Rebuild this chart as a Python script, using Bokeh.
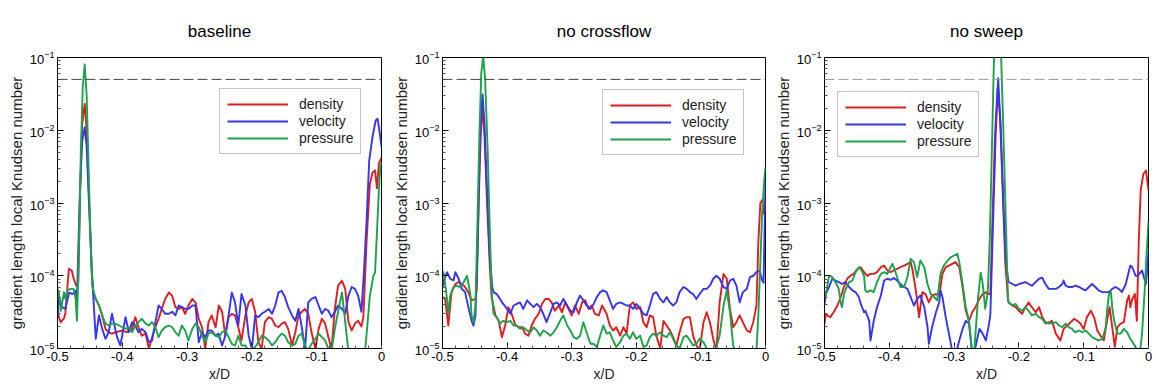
from bokeh.plotting import figure
from bokeh.models import Range1d, FixedTicker, Span, Legend, LegendItem, Title, CustomJSTickFormatter
from bokeh.layouts import row
from bokeh.embed import file_html
from bokeh.resources import INLINE

# ---------------- data (x/D, gradient length local Knudsen number) ----------------
titles = ["baseline", "no crossflow", "no sweep"]
series_names = ["density", "velocity", "pressure"]
x_ticks = [-0.5, -0.4, -0.3, -0.2, -0.1, 0.0]
y_ticks = [1e-5, 1e-4, 1e-3, 1e-2, 1e-1]
threshold = 0.05

base_density = [(-0.500, 4.0e-5), (-0.498, 2.7e-5), (-0.495, 2.3e-5), (-0.490, 2.6e-5), (-0.488, 3.0e-5), (-0.4825, 1.24e-4), (-0.478, 1.18e-4), (-0.475, 9.1e-5), (-0.471, 7.3e-5), (-0.468, 7.7e-5), (-0.465, 1.5e-3), (-0.462, 1.2e-2), (-0.458, 2.3e-2), (-0.455, 1.0e-2), (-0.451, 1.0e-3), (-0.447, 1.0e-4), (-0.444, 5.3e-5), (-0.441, 4.8e-5), (-0.436, 3.9e-5), (-0.431, 2.85e-5), (-0.426, 1.86e-5), (-0.421, 1.67e-5), (-0.416, 1.6e-5), (-0.411, 1.67e-5), (-0.400, 1.77e-5), (-0.393, 1.67e-5), (-0.385, 1.86e-5), (-0.380, 2.7e-5), (-0.375, 1.96e-5), (-0.370, 1.5e-5), (-0.364, 1.6e-5), (-0.359, 9.9e-6), (-0.354, 1.43e-5), (-0.349, 1.96e-5), (-0.344, 2.56e-5), (-0.339, 3.5e-5), (-0.334, 4.8e-5), (-0.328, 5.9e-5), (-0.323, 5.3e-5), (-0.318, 3.7e-5), (-0.313, 3.5e-5), (-0.308, 3.7e-5), (-0.303, 3.0e-5), (-0.298, 3.9e-5), (-0.292, 4.8e-5), (-0.287, 4.3e-5), (-0.282, 2.56e-5), (-0.277, 1.96e-5), (-0.272, 9.9e-6), (-0.267, 2.3e-5), (-0.262, 2.85e-5), (-0.256, 1.96e-5), (-0.251, 3.9e-5), (-0.246, 3.2e-5), (-0.241, 1.5e-5), (-0.236, 2.7e-5), (-0.231, 3.0e-5), (-0.226, 2.85e-5), (-0.221, 1.96e-5), (-0.216, 1.29e-5), (-0.210, 2.85e-5), (-0.205, 4.3e-5), (-0.200, 4.8e-5), (-0.195, 3.2e-5), (-0.190, 1.22e-5), (-0.185, 9.9e-6), (-0.180, 2.3e-5), (-0.174, 2.7e-5), (-0.169, 2.56e-5), (-0.164, 2.07e-5), (-0.159, 1.96e-5), (-0.154, 2.2e-5), (-0.149, 2.3e-5), (-0.144, 1.86e-5), (-0.138, 1.1e-5), (-0.133, 1.67e-5), (-0.128, 2.85e-5), (-0.123, 3.2e-5), (-0.118, 3.5e-5), (-0.113, 3.0e-5), (-0.108, 1.67e-5), (-0.102, 9.9e-6), (-0.097, 1.86e-5), (-0.092, 2.56e-5), (-0.087, 2.2e-5), (-0.082, 1.43e-5), (-0.077, 9.9e-6), (-0.072, 3.5e-5), (-0.067, 7.3e-5), (-0.061, 8.5e-5), (-0.056, 6.6e-5), (-0.051, 2.3e-5), (-0.046, 1.77e-5), (-0.041, 2.2e-5), (-0.036, 2.4e-5), (-0.031, 2.0e-5), (-0.028, 2.7e-5), (-0.023, 3.0e-4), (-0.018, 1.8e-3), (-0.014, 2.6e-3), (-0.010, 2.8e-3), (-0.007, 1.6e-3), (-0.004, 3.5e-3), (0.0, 4.2e-3)]

base_velocity = [(-0.500, 2.7e-5), (-0.498, 5.3e-5), (-0.493, 3.7e-5), (-0.488, 3.5e-5), (-0.482, 5.9e-5), (-0.477, 5.6e-5), (-0.472, 6.2e-5), (-0.470, 4.6e-5), (-0.466, 1.0e-3), (-0.462, 7.0e-3), (-0.458, 1.1e-2), (-0.455, 6.0e-3), (-0.451, 8.0e-4), (-0.447, 1.2e-4), (-0.444, 4.0e-5), (-0.441, 1.36e-5), (-0.436, 2.85e-5), (-0.431, 1.86e-5), (-0.426, 1.36e-5), (-0.421, 1.67e-5), (-0.416, 3.0e-5), (-0.411, 1.86e-5), (-0.408, 1.43e-5), (-0.403, 1.1e-5), (-0.395, 2.7e-5), (-0.390, 1.67e-5), (-0.385, 2.3e-5), (-0.380, 2.07e-5), (-0.375, 1.67e-5), (-0.370, 1.86e-5), (-0.364, 1.67e-5), (-0.359, 1.22e-5), (-0.354, 1.29e-5), (-0.349, 2.3e-5), (-0.344, 3.9e-5), (-0.339, 3.5e-5), (-0.334, 3.0e-5), (-0.328, 3.0e-5), (-0.323, 3.2e-5), (-0.318, 2.85e-5), (-0.313, 3.9e-5), (-0.308, 3.7e-5), (-0.303, 3.5e-5), (-0.298, 3.5e-5), (-0.292, 3.9e-5), (-0.287, 3.9e-5), (-0.282, 1.22e-5), (-0.277, 1.67e-5), (-0.272, 1.43e-5), (-0.267, 1.77e-5), (-0.262, 1.77e-5), (-0.256, 1.5e-5), (-0.2515, 1.6e-5), (-0.246, 1.1e-5), (-0.241, 1.5e-5), (-0.236, 2.85e-5), (-0.231, 5.9e-5), (-0.226, 4.3e-5), (-0.221, 2.07e-5), (-0.216, 5.6e-5), (-0.210, 3.9e-5), (-0.205, 1.5e-5), (-0.200, 9.9e-6), (-0.195, 2.85e-5), (-0.190, 2.7e-5), (-0.185, 3.0e-5), (-0.180, 3.2e-5), (-0.174, 3.5e-5), (-0.169, 3.0e-5), (-0.164, 3.9e-5), (-0.159, 5.9e-5), (-0.154, 6.2e-5), (-0.149, 5.1e-5), (-0.144, 3.7e-5), (-0.138, 2.85e-5), (-0.133, 2.4e-5), (-0.128, 3.5e-5), (-0.123, 1.96e-5), (-0.118, 9.9e-6), (-0.113, 4.3e-5), (-0.108, 4.8e-5), (-0.102, 5.1e-5), (-0.097, 3.9e-5), (-0.092, 3.0e-5), (-0.087, 3.5e-5), (-0.082, 3.3e-5), (-0.077, 2.7e-5), (-0.072, 3.2e-5), (-0.067, 3.9e-5), (-0.061, 3.5e-5), (-0.056, 3.0e-5), (-0.051, 5.3e-5), (-0.046, 7.0e-5), (-0.041, 6.6e-5), (-0.036, 5.3e-5), (-0.031, 3.2e-5), (-0.027, 1.18e-4), (-0.023, 5.7e-4), (-0.019, 3.8e-3), (-0.014, 8.0e-3), (-0.009, 1.36e-2), (-0.006, 1.44e-2), (-0.0025, 8.9e-3), (0.0, 5.9e-3)]

base_pressure = [(-0.500, 6.6e-5), (-0.498, 5.95e-5), (-0.495, 3.3e-5), (-0.493, 4.1e-5), (-0.490, 5.95e-5), (-0.488, 4.8e-5), (-0.485, 6.3e-5), (-0.480, 6.6e-5), (-0.475, 6.6e-5), (-0.472, 4.8e-5), (-0.470, 2.4e-5), (-0.467, 2.0e-4), (-0.464, 5.0e-3), (-0.461, 4.0e-2), (-0.458, 8.0e-2), (-0.455, 3.0e-2), (-0.452, 3.0e-3), (-0.449, 3.0e-4), (-0.446, 7.0e-5), (-0.441, 4.8e-5), (-0.436, 3.9e-5), (-0.431, 2.85e-5), (-0.426, 2.2e-5), (-0.421, 2.07e-5), (-0.416, 2.2e-5), (-0.411, 2.2e-5), (-0.405, 2.07e-5), (-0.400, 1.96e-5), (-0.395, 1.86e-5), (-0.390, 1.96e-5), (-0.385, 1.67e-5), (-0.380, 2.07e-5), (-0.375, 2.3e-5), (-0.370, 2.56e-5), (-0.364, 2.2e-5), (-0.359, 2.07e-5), (-0.354, 2.3e-5), (-0.349, 1.96e-5), (-0.344, 1.43e-5), (-0.339, 1.77e-5), (-0.334, 1.96e-5), (-0.328, 2.07e-5), (-0.323, 1.96e-5), (-0.318, 1.67e-5), (-0.313, 1.5e-5), (-0.308, 2.07e-5), (-0.303, 1.77e-5), (-0.298, 1.29e-5), (-0.292, 1.86e-5), (-0.287, 2.2e-5), (-0.282, 1.96e-5), (-0.277, 1.5e-5), (-0.272, 1.22e-5), (-0.267, 1.6e-5), (-0.262, 1.67e-5), (-0.256, 1.5e-5), (-0.251, 1.43e-5), (-0.246, 1.67e-5), (-0.241, 1.77e-5), (-0.236, 1.43e-5), (-0.231, 1.16e-5), (-0.226, 1.1e-5), (-0.221, 1.5e-5), (-0.216, 1.1e-5), (-0.210, 1.1e-5), (-0.205, 9.0e-6), (-0.200, 9.4e-6), (-0.195, 1.05e-5), (-0.190, 1.22e-5), (-0.185, 1.5e-5), (-0.180, 1.43e-5), (-0.174, 1.29e-5), (-0.169, 1.1e-5), (-0.164, 1.22e-5), (-0.159, 1.43e-5), (-0.154, 1.6e-5), (-0.149, 1.5e-5), (-0.144, 1.22e-5), (-0.138, 1.1e-5), (-0.133, 1.16e-5), (-0.128, 1.5e-5), (-0.123, 1.6e-5), (-0.118, 1.1e-5), (-0.113, 9.4e-6), (-0.108, 1.16e-5), (-0.102, 1.36e-5), (-0.097, 1.6e-5), (-0.092, 1.43e-5), (-0.087, 1.29e-5), (-0.082, 9.9e-6), (-0.077, 9.4e-6), (-0.072, 1.86e-5), (-0.067, 3.2e-5), (-0.061, 5.9e-5), (-0.056, 2.3e-5), (-0.051, 9.0e-6), (-0.040, 8.0e-6), (-0.026, 8.0e-6), (-0.022, 2.0e-5), (-0.018, 5.3e-5), (-0.0125, 1.0e-4), (-0.010, 1.1e-4), (-0.007, 4.0e-4), (-0.004, 1.5e-3), (-0.002, 3.0e-3), (0.0, 3.6e-3)]

nocf_density = [(-0.500, 5.1e-5), (-0.496, 4.8e-5), (-0.491, 2.07e-5), (-0.486, 5.95e-5), (-0.480, 7.7e-5), (-0.475, 8.2e-5), (-0.470, 7.7e-5), (-0.465, 7.0e-5), (-0.460, 5.95e-5), (-0.455, 4.6e-5), (-0.449, 4.8e-5), (-0.447, 6.6e-5), (-0.444, 1.0e-3), (-0.441, 8.0e-3), (-0.438, 2.2e-2), (-0.435, 8.0e-3), (-0.431, 1.0e-3), (-0.427, 1.5e-4), (-0.424, 5.0e-5), (-0.418, 2.85e-5), (-0.413, 2.4e-5), (-0.408, 1.43e-5), (-0.403, 2.07e-5), (-0.398, 3.7e-5), (-0.393, 3.0e-5), (-0.387, 2.07e-5), (-0.382, 1.96e-5), (-0.377, 1.96e-5), (-0.372, 1.6e-5), (-0.367, 1.5e-5), (-0.362, 2.07e-5), (-0.357, 2.56e-5), (-0.351, 3.0e-5), (-0.346, 4.1e-5), (-0.341, 4.8e-5), (-0.336, 4.8e-5), (-0.331, 4.3e-5), (-0.326, 3.3e-5), (-0.320, 3.9e-5), (-0.315, 3.15e-5), (-0.310, 4.3e-5), (-0.305, 3.5e-5), (-0.300, 2.85e-5), (-0.295, 3.9e-5), (-0.289, 3.0e-5), (-0.284, 4.3e-5), (-0.279, 4.6e-5), (-0.274, 3.5e-5), (-0.269, 3.9e-5), (-0.264, 3.0e-5), (-0.258, 2.85e-5), (-0.253, 3.9e-5), (-0.246, 3.0e-5), (-0.241, 2.07e-5), (-0.236, 1.77e-5), (-0.231, 1.96e-5), (-0.225, 1.5e-5), (-0.220, 1.96e-5), (-0.215, 1.6e-5), (-0.210, 3.9e-5), (-0.205, 4.3e-5), (-0.200, 3.5e-5), (-0.194, 3.7e-5), (-0.189, 2.3e-5), (-0.184, 1.96e-5), (-0.179, 2.85e-5), (-0.174, 2.7e-5), (-0.169, 1.5e-5), (-0.163, 1.0e-5), (-0.158, 2.4e-5), (-0.153, 2.07e-5), (-0.148, 1.77e-5), (-0.143, 1.43e-5), (-0.138, 1.1e-5), (-0.133, 1.67e-5), (-0.127, 2.56e-5), (-0.122, 2.7e-5), (-0.117, 2.7e-5), (-0.112, 1.5e-5), (-0.107, 1.1e-5), (-0.102, 9.4e-6), (-0.096, 2.3e-5), (-0.091, 3.15e-5), (-0.086, 2.3e-5), (-0.081, 1.36e-5), (-0.076, 9.4e-6), (-0.071, 4.3e-5), (-0.065, 1.06e-4), (-0.060, 9.1e-5), (-0.055, 3.5e-5), (-0.050, 1.96e-5), (-0.045, 2.3e-5), (-0.040, 2.85e-5), (-0.035, 2.3e-5), (-0.029, 1.77e-5), (-0.024, 1.67e-5), (-0.019, 2.3e-5), (-0.014, 3.9e-5), (-0.011, 3.0e-4), (-0.008, 1.0e-3), (-0.005, 1.1e-3), (-0.002, 7.0e-4), (0.0, 1.1e-3)]

nocf_velocity = [(-0.500, 7.0e-5), (-0.498, 8.6e-5), (-0.493, 1.12e-4), (-0.488, 9.1e-5), (-0.483, 8.6e-5), (-0.480, 1.12e-4), (-0.475, 9.1e-5), (-0.470, 6.6e-5), (-0.465, 5.95e-5), (-0.460, 3.7e-5), (-0.455, 2.4e-5), (-0.452, 2.07e-5), (-0.449, 2.85e-5), (-0.446, 2.0e-4), (-0.443, 3.0e-3), (-0.440, 2.0e-2), (-0.438, 3.1e-2), (-0.435, 1.2e-2), (-0.431, 1.5e-3), (-0.427, 2.0e-4), (-0.423, 7.0e-5), (-0.421, 5.95e-5), (-0.416, 5.6e-5), (-0.411, 4.8e-5), (-0.406, 4.1e-5), (-0.400, 3.5e-5), (-0.395, 3.0e-5), (-0.390, 3.9e-5), (-0.385, 4.1e-5), (-0.380, 4.3e-5), (-0.375, 3.5e-5), (-0.369, 4.6e-5), (-0.364, 4.1e-5), (-0.359, 3.7e-5), (-0.354, 4.1e-5), (-0.349, 3.7e-5), (-0.344, 3.0e-5), (-0.339, 2.3e-5), (-0.333, 3.15e-5), (-0.328, 4.1e-5), (-0.323, 4.3e-5), (-0.318, 3.9e-5), (-0.313, 4.8e-5), (-0.307, 3.9e-5), (-0.302, 3.3e-5), (-0.297, 3.15e-5), (-0.292, 4.3e-5), (-0.287, 5.35e-5), (-0.282, 4.6e-5), (-0.277, 3.9e-5), (-0.271, 3.5e-5), (-0.266, 4.1e-5), (-0.261, 5.1e-5), (-0.256, 5.95e-5), (-0.251, 6.3e-5), (-0.246, 5.95e-5), (-0.241, 4.6e-5), (-0.236, 3.5e-5), (-0.231, 4.1e-5), (-0.225, 4.3e-5), (-0.220, 4.1e-5), (-0.215, 3.9e-5), (-0.210, 3.9e-5), (-0.205, 3.5e-5), (-0.200, 4.1e-5), (-0.194, 3.5e-5), (-0.189, 3.0e-5), (-0.184, 2.85e-5), (-0.179, 3.9e-5), (-0.174, 5.6e-5), (-0.169, 5.95e-5), (-0.163, 4.8e-5), (-0.158, 4.3e-5), (-0.153, 5.1e-5), (-0.148, 4.3e-5), (-0.143, 3.9e-5), (-0.138, 4.3e-5), (-0.133, 5.95e-5), (-0.127, 7.0e-5), (-0.122, 6.6e-5), (-0.117, 5.95e-5), (-0.112, 5.6e-5), (-0.107, 4.8e-5), (-0.102, 5.6e-5), (-0.096, 6.6e-5), (-0.091, 6.6e-5), (-0.086, 7.3e-5), (-0.081, 9.1e-5), (-0.076, 1.0e-4), (-0.071, 9.1e-5), (-0.065, 7.0e-5), (-0.060, 6.6e-5), (-0.055, 8.6e-5), (-0.050, 9.1e-5), (-0.045, 7.3e-5), (-0.040, 4.3e-5), (-0.035, 5.95e-5), (-0.029, 6.6e-5), (-0.024, 9.6e-5), (-0.019, 1.0e-4), (-0.014, 1.12e-4), (-0.009, 1.18e-4), (-0.006, 9.1e-5), (-0.003, 8.0e-5), (0.0, 2.0e-3)]

nocf_pressure = [(-0.500, 1.18e-4), (-0.498, 1.06e-4), (-0.493, 4.8e-5), (-0.491, 3.0e-5), (-0.488, 5.35e-5), (-0.483, 7.0e-5), (-0.478, 7.3e-5), (-0.473, 7.0e-5), (-0.467, 8.2e-5), (-0.462, 1.0e-4), (-0.457, 5.6e-5), (-0.455, 2.85e-5), (-0.452, 2.3e-5), (-0.449, 3.9e-5), (-0.446, 5.0e-4), (-0.443, 8.0e-3), (-0.440, 6.0e-2), (-0.437, 1.05e-1), (-0.434, 5.0e-2), (-0.430, 5.0e-3), (-0.427, 5.0e-4), (-0.424, 6.0e-5), (-0.421, 3.0e-5), (-0.416, 2.7e-5), (-0.411, 2.2e-5), (-0.406, 2.4e-5), (-0.400, 2.3e-5), (-0.395, 2.4e-5), (-0.390, 2.07e-5), (-0.385, 2.07e-5), (-0.380, 1.86e-5), (-0.375, 1.96e-5), (-0.369, 1.77e-5), (-0.364, 1.67e-5), (-0.359, 1.96e-5), (-0.354, 1.77e-5), (-0.349, 1.5e-5), (-0.344, 1.77e-5), (-0.339, 1.67e-5), (-0.333, 1.5e-5), (-0.328, 1.67e-5), (-0.323, 1.96e-5), (-0.318, 2.4e-5), (-0.313, 2.85e-5), (-0.307, 2.07e-5), (-0.302, 1.77e-5), (-0.297, 1.43e-5), (-0.292, 1.36e-5), (-0.287, 1.5e-5), (-0.282, 2.3e-5), (-0.277, 1.67e-5), (-0.271, 1.16e-5), (-0.266, 1.16e-5), (-0.261, 1.05e-5), (-0.256, 1.5e-5), (-0.251, 2.07e-5), (-0.246, 1.6e-5), (-0.241, 1.67e-5), (-0.236, 1.29e-5), (-0.231, 1.05e-5), (-0.225, 1.22e-5), (-0.220, 1.5e-5), (-0.215, 1.6e-5), (-0.210, 1.36e-5), (-0.205, 1.67e-5), (-0.200, 1.36e-5), (-0.194, 1.5e-5), (-0.189, 1.05e-5), (-0.184, 1.1e-5), (-0.179, 1.43e-5), (-0.174, 1.6e-5), (-0.169, 1.5e-5), (-0.163, 1.67e-5), (-0.158, 1.5e-5), (-0.153, 1.43e-5), (-0.148, 1.67e-5), (-0.143, 1.36e-5), (-0.138, 1.1e-5), (-0.133, 1.0e-5), (-0.127, 1.43e-5), (-0.122, 1.5e-5), (-0.117, 1.29e-5), (-0.112, 1.1e-5), (-0.107, 1.16e-5), (-0.102, 1.36e-5), (-0.096, 1.22e-5), (-0.091, 1.0e-5), (-0.086, 8.0e-6), (-0.081, 9.0e-6), (-0.076, 1.05e-5), (-0.071, 1.5e-5), (-0.065, 3.9e-5), (-0.060, 6.3e-5), (-0.055, 3.15e-5), (-0.050, 1.1e-5), (-0.045, 8.0e-6), (-0.020, 8.0e-6), (-0.014, 9.0e-6), (-0.011, 3.0e-5), (-0.008, 1.5e-4), (-0.005, 8.0e-4), (-0.002, 2.0e-3), (0.0, 3.1e-3)]

nosw_density = [(-0.500, 2.2e-5), (-0.498, 3.0e-5), (-0.496, 2.85e-5), (-0.491, 2.7e-5), (-0.486, 3.15e-5), (-0.480, 3.9e-5), (-0.475, 5.1e-5), (-0.470, 7.0e-5), (-0.465, 9.1e-5), (-0.460, 1.0e-4), (-0.455, 1.06e-4), (-0.449, 1.24e-4), (-0.444, 1.31e-4), (-0.439, 1.12e-4), (-0.434, 1.0e-4), (-0.429, 1.06e-4), (-0.424, 1.06e-4), (-0.419, 1.12e-4), (-0.413, 1.31e-4), (-0.408, 1.38e-4), (-0.403, 1.18e-4), (-0.398, 1.12e-4), (-0.393, 1.18e-4), (-0.388, 1.24e-4), (-0.383, 1.31e-4), (-0.377, 1.38e-4), (-0.372, 1.46e-4), (-0.367, 1.54e-4), (-0.364, 1.18e-4), (-0.359, 6.3e-5), (-0.354, 2.7e-5), (-0.349, 5.95e-5), (-0.344, 5.6e-5), (-0.339, 4.3e-5), (-0.334, 5.35e-5), (-0.328, 5.6e-5), (-0.323, 5.35e-5), (-0.318, 1.06e-4), (-0.313, 1.31e-4), (-0.308, 1.38e-4), (-0.303, 1.46e-4), (-0.298, 1.54e-4), (-0.292, 1.31e-4), (-0.287, 7.0e-5), (-0.282, 3.3e-5), (-0.277, 2.4e-5), (-0.272, 3.15e-5), (-0.267, 3.7e-5), (-0.261, 4.8e-5), (-0.256, 5.6e-5), (-0.251, 5.95e-5), (-0.249, 5.6e-5), (-0.244, 5.6e-5), (-0.241, 5.0e-4), (-0.237, 8.0e-3), (-0.233, 3.8e-2), (-0.229, 1.5e-2), (-0.225, 1.5e-3), (-0.221, 1.5e-4), (-0.217, 5.0e-5), (-0.216, 4.3e-5), (-0.210, 3.9e-5), (-0.205, 3.7e-5), (-0.200, 3.3e-5), (-0.195, 3.0e-5), (-0.190, 3.7e-5), (-0.185, 4.3e-5), (-0.180, 3.7e-5), (-0.174, 3.15e-5), (-0.169, 3.7e-5), (-0.164, 2.7e-5), (-0.159, 2.3e-5), (-0.154, 2.2e-5), (-0.149, 2.4e-5), (-0.143, 1.6e-5), (-0.136, 1.29e-5), (-0.131, 1.86e-5), (-0.125, 2.07e-5), (-0.120, 2.3e-5), (-0.115, 2.56e-5), (-0.110, 2.4e-5), (-0.105, 2.2e-5), (-0.100, 1.86e-5), (-0.095, 2.7e-5), (-0.089, 3.3e-5), (-0.084, 2.7e-5), (-0.079, 1.77e-5), (-0.074, 1.5e-5), (-0.069, 1.29e-5), (-0.064, 2.4e-5), (-0.060, 3.7e-5), (-0.056, 1.96e-5), (-0.052, 1.05e-5), (-0.048, 1.96e-5), (-0.043, 2.2e-5), (-0.038, 2.3e-5), (-0.033, 4.6e-5), (-0.030, 5.35e-5), (-0.028, 3.7e-5), (-0.025, 4.8e-5), (-0.021, 5.6e-5), (-0.018, 2.4e-5), (-0.015, 3.0e-4), (-0.012, 1.5e-3), (-0.008, 2.5e-3), (-0.004, 2.8e-3), (0.0, 1.5e-3)]

nosw_velocity = [(-0.500, 4.1e-5), (-0.498, 5.6e-5), (-0.493, 7.0e-5), (-0.488, 9.1e-5), (-0.483, 8.6e-5), (-0.478, 8.2e-5), (-0.473, 7.7e-5), (-0.468, 8.2e-5), (-0.462, 7.0e-5), (-0.457, 6.3e-5), (-0.452, 5.95e-5), (-0.447, 5.1e-5), (-0.444, 4.1e-5), (-0.439, 3.15e-5), (-0.437, 3.3e-5), (-0.431, 2.4e-5), (-0.429, 1.29e-5), (-0.424, 2.4e-5), (-0.419, 3.7e-5), (-0.413, 5.35e-5), (-0.408, 8.6e-5), (-0.403, 9.1e-5), (-0.398, 8.8e-5), (-0.393, 9.3e-5), (-0.388, 8.6e-5), (-0.383, 7.7e-5), (-0.377, 7.0e-5), (-0.372, 6.6e-5), (-0.367, 5.1e-5), (-0.362, 3.9e-5), (-0.357, 4.8e-5), (-0.352, 5.35e-5), (-0.346, 3.7e-5), (-0.341, 1.96e-5), (-0.339, 1.16e-5), (-0.334, 1.96e-5), (-0.328, 3.15e-5), (-0.323, 4.3e-5), (-0.321, 6.3e-5), (-0.318, 5.1e-5), (-0.313, 2.7e-5), (-0.308, 1.6e-5), (-0.303, 9.4e-6), (-0.298, 8.0e-6), (-0.292, 1.29e-5), (-0.287, 1.86e-5), (-0.282, 2.4e-5), (-0.277, 2.2e-5), (-0.272, 8.5e-6), (-0.267, 1.05e-5), (-0.261, 1.86e-5), (-0.256, 1.6e-5), (-0.251, 1.29e-5), (-0.246, 2.2e-5), (-0.244, 3.0e-5), (-0.240, 5.0e-4), (-0.236, 8.0e-3), (-0.232, 5.2e-2), (-0.228, 1.0e-2), (-0.224, 1.0e-3), (-0.220, 1.5e-4), (-0.216, 8.2e-5), (-0.210, 7.7e-5), (-0.205, 7.3e-5), (-0.200, 7.7e-5), (-0.195, 7.9e-5), (-0.190, 8.2e-5), (-0.185, 7.7e-5), (-0.180, 7.3e-5), (-0.174, 8.2e-5), (-0.169, 9.1e-5), (-0.164, 9.4e-5), (-0.159, 7.7e-5), (-0.154, 6.6e-5), (-0.149, 6.6e-5), (-0.143, 6.6e-5), (-0.138, 7.0e-5), (-0.133, 7.7e-5), (-0.131, 8.6e-5), (-0.128, 7.3e-5), (-0.123, 7.0e-5), (-0.118, 7.0e-5), (-0.113, 7.3e-5), (-0.107, 7.0e-5), (-0.102, 6.6e-5), (-0.097, 6.3e-5), (-0.092, 7.0e-5), (-0.087, 7.7e-5), (-0.082, 7.0e-5), (-0.077, 6.3e-5), (-0.071, 5.95e-5), (-0.066, 5.95e-5), (-0.061, 5.95e-5), (-0.056, 6.6e-5), (-0.051, 7.0e-5), (-0.046, 6.6e-5), (-0.041, 5.95e-5), (-0.035, 7.7e-5), (-0.030, 1.18e-4), (-0.028, 1.38e-4), (-0.025, 1.31e-4), (-0.020, 1.0e-4), (-0.017, 1.0e-4), (-0.012, 1.12e-4), (-0.010, 1.18e-4), (-0.004, 7.7e-5), (-0.002, 1.2e-4), (0.0, 2.3e-4)]

nosw_pressure = [(-0.500, 5.6e-5), (-0.498, 5.35e-5), (-0.493, 1.0e-4), (-0.488, 9.6e-5), (-0.483, 8.2e-5), (-0.478, 6.6e-5), (-0.475, 4.3e-5), (-0.473, 3.7e-5), (-0.470, 5.6e-5), (-0.468, 6.3e-5), (-0.462, 8.2e-5), (-0.457, 8.6e-5), (-0.452, 1.12e-4), (-0.447, 1.31e-4), (-0.444, 1.24e-4), (-0.439, 1.0e-4), (-0.437, 6.3e-5), (-0.434, 5.95e-5), (-0.429, 6.3e-5), (-0.424, 5.95e-5), (-0.419, 8.2e-5), (-0.413, 1.06e-4), (-0.408, 1.12e-4), (-0.403, 1.06e-4), (-0.398, 1.31e-4), (-0.395, 1.46e-4), (-0.393, 1.31e-4), (-0.388, 9.6e-5), (-0.383, 7.0e-5), (-0.377, 7.0e-5), (-0.372, 9.6e-5), (-0.367, 1.71e-4), (-0.362, 1.54e-4), (-0.357, 9.6e-5), (-0.352, 1.62e-4), (-0.346, 1.31e-4), (-0.341, 7.7e-5), (-0.336, 5.6e-5), (-0.331, 5.1e-5), (-0.326, 4.6e-5), (-0.321, 1.06e-4), (-0.316, 1.38e-4), (-0.310, 1.62e-4), (-0.305, 1.8e-4), (-0.300, 1.9e-4), (-0.295, 2.0e-4), (-0.292, 1.54e-4), (-0.287, 7.7e-5), (-0.282, 3.7e-5), (-0.277, 2.4e-5), (-0.272, 8.5e-6), (-0.269, 8.5e-6), (-0.267, 1.6e-5), (-0.263, 5.0e-5), (-0.259, 1.1e-4), (-0.256, 8.0e-5), (-0.252, 3.5e-5), (-0.248, 6.0e-5), (-0.245, 3.0e-4), (-0.241, 1.0e-2), (-0.238, 1.5e-1), (-0.228, 1.5e-1), (-0.224, 1.0e-2), (-0.220, 5.0e-4), (-0.217, 5.0e-5), (-0.216, 4.3e-5), (-0.210, 3.9e-5), (-0.205, 4.1e-5), (-0.200, 3.5e-5), (-0.195, 3.3e-5), (-0.190, 3.7e-5), (-0.185, 3.3e-5), (-0.180, 2.85e-5), (-0.174, 3.0e-5), (-0.169, 2.7e-5), (-0.164, 2.56e-5), (-0.159, 2.2e-5), (-0.154, 2.3e-5), (-0.149, 2.2e-5), (-0.143, 2.3e-5), (-0.138, 2.07e-5), (-0.133, 1.96e-5), (-0.128, 2.2e-5), (-0.123, 1.96e-5), (-0.118, 1.86e-5), (-0.113, 1.67e-5), (-0.107, 1.77e-5), (-0.102, 1.67e-5), (-0.097, 1.77e-5), (-0.092, 1.6e-5), (-0.087, 1.43e-5), (-0.082, 1.36e-5), (-0.077, 1.29e-5), (-0.071, 1.36e-5), (-0.066, 1.96e-5), (-0.064, 3.3e-5), (-0.061, 5.6e-5), (-0.058, 5.95e-5), (-0.056, 3.7e-5), (-0.053, 2.4e-5), (-0.048, 1.6e-5), (-0.043, 1.6e-5), (-0.038, 1.86e-5), (-0.033, 1.67e-5), (-0.028, 1.36e-5), (-0.023, 1.16e-5), (-0.017, 9.4e-6), (-0.013, 9.0e-6), (-0.010, 1.6e-5), (-0.006, 6.0e-5), (-0.003, 2.0e-4), (0.0, 5.5e-4)]

panel_data = [
    [base_density, base_velocity, base_pressure],
    [nocf_density, nocf_velocity, nocf_pressure],
    [nosw_density, nosw_velocity, nosw_pressure],
]

# ---------------- styling ----------------
FONT = "Liberation Sans"
line_colors = ["#e31b1c", "#3434f2", "#19a34a"]
dash_colors = ["#444444", "#444444", "#9a9a9a"]
borders = [(57, 4), (57, 4), (55, 8)]          # (left, right) border of each panel
frame_widths = [324, 323, 324]
legend_pos = [(162, 194), (160, 193), (13, 191)]

minor_y = [m * d for d in y_ticks[:-1] for m in range(2, 10)]
minor_x = [-0.5 + 0.02 * i for i in range(26)]

figs = []
for k in range(3):
    left, right = borders[k]
    p = figure(frame_width=frame_widths[k], frame_height=291,
               y_axis_type="log",
               x_range=Range1d(-0.5, 0.0), y_range=Range1d(1e-5, 1e-1),
               output_backend="svg", toolbar_location=None,
               min_border_left=left, min_border_right=right,
               min_border_top=57, min_border_bottom=40,
               background_fill_color="white", border_fill_color="white")
    p.grid.visible = False
    p.outline_line_color = "black"
    p.outline_line_width = 1

    p.title.text = titles[k]
    p.title.align = "center"
    p.title.text_font = FONT
    p.title.text_font_size = "17px"
    p.title.text_font_style = "normal"
    p.title.text_color = "black"
    p.title.standoff = 33

    ylab = Title(text="gradient length local Knudsen number", align="center", offset=22,
                 text_font=FONT, text_font_size="15px", text_font_style="normal",
                 text_color="#222222", standoff=3)
    p.add_layout(ylab, "left")

    p.xaxis.ticker = FixedTicker(ticks=x_ticks, minor_ticks=minor_x)
    p.xaxis.formatter = CustomJSTickFormatter(code="return Math.abs(tick) < 1e-9 ? '0' : tick.toFixed(1);")
    p.yaxis.ticker = FixedTicker(ticks=y_ticks, minor_ticks=minor_y)
    p.xaxis.axis_label = "x/D"
    p.xaxis.axis_label_text_font = FONT
    p.xaxis.axis_label_text_font_size = "14px"
    p.xaxis.axis_label_text_font_style = "normal"
    p.xaxis.axis_label_text_color = "#222222"
    p.xaxis.axis_label_standoff = 2
    for ax in (p.xaxis, p.yaxis):
        ax.major_tick_in = 6
        ax.major_tick_out = 0
        ax.minor_tick_in = 3
        ax.minor_tick_out = 0
        ax.major_label_text_font = FONT
        ax.major_label_text_font_size = "13px"
        ax.major_label_text_color = "black"
        ax.axis_line_color = "black"
        ax.major_tick_line_color = "black"
        ax.minor_tick_line_color = "#555555"
        ax.major_label_standoff = 3

    p.add_layout(Span(location=threshold, dimension="width", line_color=dash_colors[k],
                      line_dash="10 4", line_width=1))

    items = []
    for s in range(3):
        pts = panel_data[k][s]
        xs = [a for a, b in pts]
        ys = [b for a, b in pts]
        r = p.line(xs, ys, line_color=line_colors[s], line_width=1.9, line_join="round")
        items.append(LegendItem(label=series_names[s], renderers=[r]))

    leg = Legend(items=items, location=legend_pos[k], margin=0, padding=7, spacing=1,
                 glyph_width=61, glyph_height=16, label_height=16, label_standoff=11,
                 label_text_font=FONT, label_text_font_size="14px", label_text_color="#222222",
                 border_line_color="#8c8c8c", border_line_width=1,
                 background_fill_color="white", background_fill_alpha=1.0)
    p.add_layout(leg)
    figs.append(p)

layout = row(*figs, spacing=0)
open("out.html", "w").write(file_html(layout, INLINE))
